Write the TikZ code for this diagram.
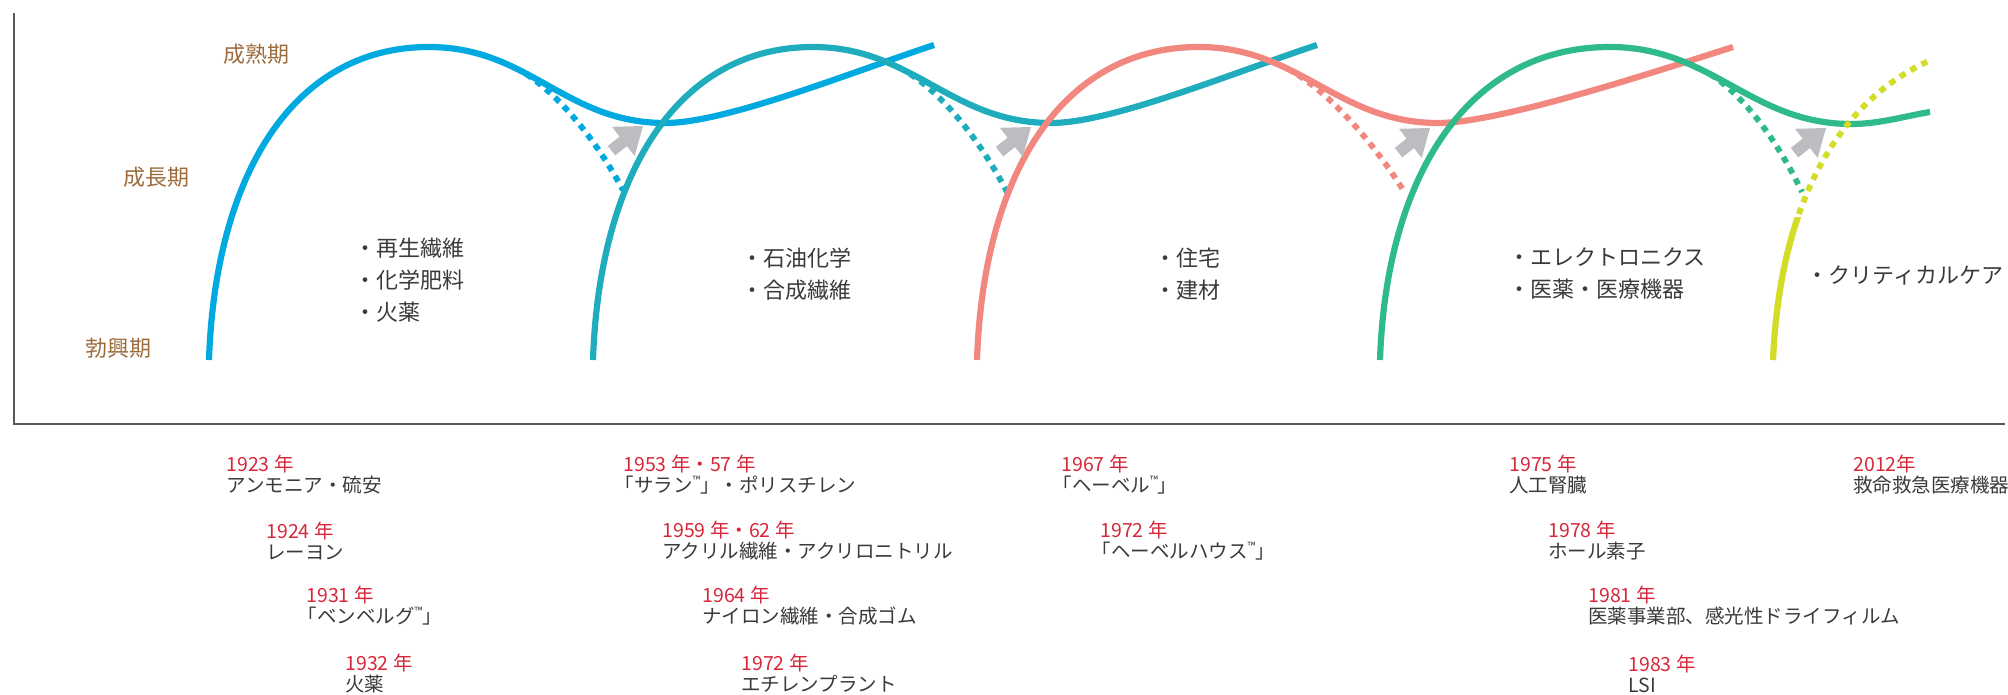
\documentclass[tikz,border=0pt]{standalone}
\usepackage{fontspec}
\setmainfont{Noto Sans CJK JP}
\usepackage{xcolor}
\usetikzlibrary{positioning}

\definecolor{lifeblue}{HTML}{00A9E0}
\definecolor{lifeteal}{HTML}{1FADBD}
\definecolor{lifesalmon}{HTML}{F2877F}
\definecolor{lifegreen}{HTML}{2FBA8A}
\definecolor{lifelime}{HTML}{D3DC27}
\definecolor{shiftgray}{HTML}{BCBDC0}
\definecolor{stagebrown}{HTML}{9C6B3C}
\definecolor{yearred}{HTML}{D6283A}
\definecolor{textdark}{HTML}{3A3A3A}

\tikzset{
  lifecurve/.style={line width=3.1pt},
  decline/.style={line width=2.9pt, dash pattern=on 3.2pt off 3pt},
  chartaxis/.style={draw=black!65, line width=0.8pt},
  stage/.style={text=stagebrown, font=\fontsize{11pt}{13pt}\selectfont, inner sep=0pt},
  field/.style={text=textdark, font=\fontsize{11pt}{16pt}\selectfont, align=left, anchor=west, inner sep=0pt},
  event/.style={text=textdark, font=\fontsize{9.75pt}{10.5pt}\selectfont, align=left, anchor=west, inner sep=0pt},
}

\newcommand{\yr}[1]{\textcolor{yearred}{#1}}
\newcommand{\tmark}{\raisebox{4pt}{\fontsize{5.5pt}{6pt}\selectfont ™}}

\begin{document}
\begin{tikzpicture}[x=0.5pt,y=-0.5pt]
    \useasboundingbox (0,0) rectangle (2008,695);

    \draw[chartaxis] (14,13) |- (2005,424);

    \node[stage] (mature) at (256,54) {成熟期};
    \node[stage] (growth) at (156,177) {成長期};
    \node[stage] (rise) at (118,348) {勃興期};

    \draw[decline, lifeblue] (526,74) .. controls (560,96) and (596,140) .. (623,190);
    \draw[lifecurve, lifeblue] (209,360) .. controls (215,180) and (290,47) .. (429,47)
      .. controls (529,47) and (565,123) .. (665,123)
      .. controls (725,123) and (844,75) .. (934,45);

    \draw[decline, lifeteal] (910,74) .. controls (944,96) and (980,140) .. (1007,192);
    \draw[lifecurve, lifeteal] (593,360) .. controls (599,180) and (674,47) .. (813,47)
      .. controls (913,47) and (951,123) .. (1051,123)
      .. controls (1111,123) and (1227,75) .. (1317,45);

    \draw[decline, lifesalmon] (1298,75) .. controls (1332,97) and (1372,140) .. (1405,193);
    \draw[lifecurve, lifesalmon] (977,360) .. controls (983,180) and (1058,47) .. (1199,47)
      .. controls (1299,47) and (1338,123) .. (1438,123)
      .. controls (1498,123) and (1645,75) .. (1733,47);

    \draw[decline, lifegreen] (1710,74) .. controls (1744,96) and (1777,140) .. (1802,192);
    \draw[lifecurve, lifegreen] (1380,360) .. controls (1386,180) and (1465,47) .. (1610,47)
      .. controls (1712,47) and (1751,124) .. (1851,124)
      .. controls (1880,124) and (1905,116) .. (1930,112);

    \draw[decline, lifelime] (1773,360) .. controls (1780,200) and (1840,100) .. (1931,60);
    \begin{scope}
      \clip (1700,218) rectangle (1900,400);
      \draw[lifecurve, lifelime] (1773,360) .. controls (1780,200) and (1840,100) .. (1931,60);
    \end{scope}

    \foreach \tx/\ty in {643/126, 1031/127, 1430/128, 1826/128}
      \fill[shiftgray, shift={(\tx,\ty)}, rotate=38]
        (0,0) -- (-25,18.5) -- (-25,6) -- (-40,6) -- (-40,-6) -- (-25,-6) -- (-25,-18.5) -- cycle;

    \node[field] (use1) at (354,280) {・再生繊維\\・化学肥料\\・火薬};
    \node[field] (use2) at (741,274) {・石油化学\\・合成繊維};
    \node[field] (use3) at (1154,274) {・住宅\\・建材};
    \node[field] (use4) at (1508,274) {・エレクトロニクス\\・医薬・医療機器};
    \node[field] (use5) at (1806,275) {・クリティカルケア};

    \node[event] (ev1923) at (226,474.5) {\yr{1923 年}\\アンモニア・硫安};
    \node[event] (ev1924) at (266,541) {\yr{1924 年}\\レーヨン};
    \node[event] (ev1931) at (306,606) {\yr{1931 年}\\\hspace*{-.45em}「ベンベルグ\tmark」};
    \node[event] (ev1932) at (345,673.5) {\yr{1932 年}\\火薬};

    \node[event] (ev1953) at (623,474.5) {\yr{1953 年・57 年}\\\hspace*{-.45em}「サラン\tmark」・ポリスチレン};
    \node[event] (ev1959) at (662,541) {\yr{1959 年・62 年}\\アクリル繊維・アクリロニトリル};
    \node[event] (ev1964) at (702,606) {\yr{1964 年}\\ナイロン繊維・合成ゴム};
    \node[event] (ev1972) at (741,673.5) {\yr{1972 年}\\エチレンプラント};

    \node[event] (ev1967) at (1061,474.5) {\yr{1967 年}\\\hspace*{-.45em}「ヘーベル\tmark」};
    \node[event] (ev1972h) at (1100,541) {\yr{1972 年}\\\hspace*{-.45em}「ヘーベルハウス\tmark」};

    \node[event] (ev1975) at (1509,474.5) {\yr{1975 年}\\人工腎臓};
    \node[event] (ev1978) at (1548,541) {\yr{1978 年}\\ホール素子};
    \node[event] (ev1981) at (1588,606) {\yr{1981 年}\\医薬事業部、感光性ドライフィルム};
    \node[event] (ev1983) at (1628,673.5) {\yr{1983 年}\\LSI};

    \node[event] (ev2012) at (1853,474.5) {\yr{2012年}\\救命救急医療機器};
\end{tikzpicture}
\end{document}
